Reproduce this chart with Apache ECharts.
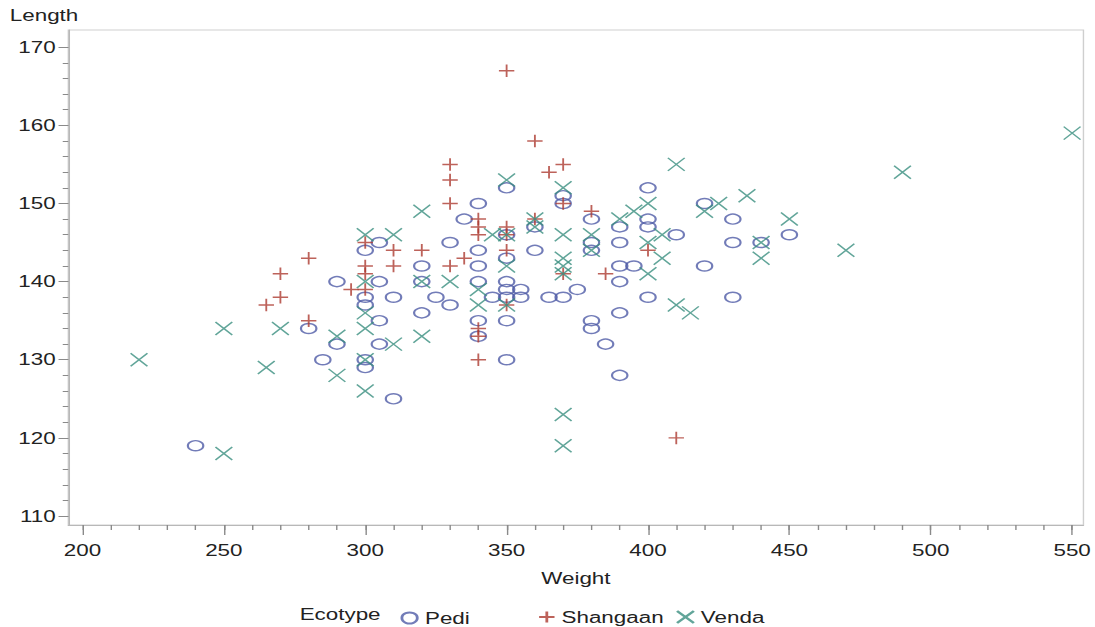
<!DOCTYPE html>
<html lang="en">
    <head>
        <meta charset="utf-8">
        <title>Weight vs Length by Ecotype</title>
        <script src="https://cdn.jsdelivr.net/npm/echarts@6/dist/echarts.min.js"></script>
        <style>
          body { margin: 0; background: #fff; }
          /* the original picture is stretched sideways, so draw narrow and stretch */
          #main { width: 782px; height: 627px; transform: scaleX(1.4003); transform-origin: 0 0; }
        </style>
    </head>
    <body>
    <div id="main"></div>
    <script type="text/javascript">
        // [weight, length]
        var pedi = [
          [240,119],[280,134],[285,130],[290,140],[290,132],[300,144],[300,138],[300,137],
          [300,130],[300,129],[305,145],[305,140],[305,135],[305,132],[310,138],[310,125],
          [320,142],[320,140],[320,136],[325,138],[330,145],[330,137],[335,148],[340,150],
          [340,144],[340,142],[340,140],[340,135],[340,133],[345,138],[350,152],[350,146],
          [350,143],[350,140],[350,139],[350,138],[350,135],[350,130],[355,139],[355,138],
          [360,147],[360,144],[365,138],[370,151],[370,150],[370,138],[375,139],[380,148],
          [380,145],[380,144],[380,135],[380,134],[385,132],[390,147],[390,145],[390,142],
          [390,140],[390,136],[390,128],[395,142],[400,152],[400,148],[400,147],[400,138],
          [410,146],[420,150],[420,142],[430,148],[430,145],[430,138],[440,145],[450,146]
        ];
        var shangaan = [
          [265,137],[270,141],[270,138],[280,143],[280,135],[295,139],[300,145],[300,142],
          [300,141],[300,139],[310,144],[310,142],[320,144],[330,155],[330,153],[330,150],
          [330,142],[335,143],[340,148],[340,147],[340,146],[340,134],[340,133],[340,130],
          [350,167],[350,147],[350,146],[350,144],[350,137],[360,158],[360,148],[365,154],
          [370,155],[370,150],[370,141],[380,149],[385,141],[400,144],[410,120]
        ];
        var venda = [
          [220,130],[250,134],[250,118],[265,129],[270,134],[290,133],[290,128],[300,146],
          [300,140],[300,136],[300,134],[300,130],[300,126],[310,146],[310,132],[320,149],
          [320,140],[320,133],[330,140],[340,139],[340,137],[345,146],[350,153],[350,146],
          [350,142],[350,137],[360,148],[360,147],[370,152],[370,146],[370,143],[370,142],
          [370,141],[370,123],[370,119],[380,146],[380,144],[390,148],[395,149],[400,150],
          [400,145],[400,141],[405,146],[405,143],[410,155],[410,137],[415,136],[420,149],
          [425,150],[435,151],[440,145],[440,143],[450,148],[470,144],[490,154],[550,159]
        ];
        var xTicks = [200, 250, 300, 350, 400, 450, 500, 550];
        var yTicks = [110, 120, 130, 140, 150, 160, 170];

        // minor ticks: every 10 on weight, every 2 on length
        var xMinor = [];
        for (var i = 200; i <= 550; i += 10) xMinor.push(i);
        var yMinor = [];
        for (var j = 110; j <= 170; j += 2) yMinor.push(j);

        var font = 'Liberation Sans, Arial, sans-serif';
        var cPedi = '#4f5ba6';
        var cShan = '#ad3b31';
        var cVenda = '#3a8f80';
        var plusPath = 'path://M0,50 L100,50 M50,0 L50,100';
        var crossPath = 'path://M0,0 L100,100 M100,0 L0,100';

        var chart = echarts.init(document.getElementById('main'), null, {renderer: 'svg'});
        chart.setOption({
          animation: false,
          grid: {
            left: 48.8, right: 5.8, top: 30, bottom: 102,
            show: true, borderColor: '#cfcfcf', borderWidth: 1
          },
          graphic: [
            { type: 'text', left: 7, top: 7, style: { text: 'Length', font: '16px ' + font, fill: '#222' } },
            { type: 'text', left: 214, top: 606, style: { text: 'Ecotype', font: '16px ' + font, fill: '#222' } }
          ],
          xAxis: [{
            type: 'value', min: 195, max: 554, position: 'bottom',
            name: 'Weight', nameLocation: 'middle', nameGap: 45,
            nameTextStyle: { fontFamily: font, fontSize: 16, color: '#222' },
            axisLine: { show: true, lineStyle: { color: '#b8b8b8' } },
            axisTick: { show: true, length: 10, customValues: xTicks, lineStyle: { color: '#8a8a8a' } },
            axisLabel: { customValues: xTicks, margin: 17, fontFamily: font, fontSize: 16, color: '#222' },
            splitLine: { show: false }
          }, {
            type: 'value', min: 195, max: 554, position: 'bottom',
            axisLine: { show: false },
            axisTick: { show: true, length: 5, customValues: xMinor, lineStyle: { color: '#8a8a8a' } },
            axisLabel: { show: false },
            splitLine: { show: false }
          }],
          yAxis: [{
            type: 'value', min: 108.85, max: 172.2, position: 'left',
            axisLine: { show: true, lineStyle: { color: '#b8b8b8' } },
            axisTick: { show: true, length: 7, customValues: yTicks, lineStyle: { color: '#8a8a8a' } },
            axisLabel: { customValues: yTicks, margin: 9, fontFamily: font, fontSize: 16, color: '#222' },
            splitLine: { show: false }
          }, {
            type: 'value', min: 108.85, max: 172.2, position: 'left',
            axisLine: { show: false },
            axisTick: { show: true, length: 4, customValues: yMinor, lineStyle: { color: '#8a8a8a' } },
            axisLabel: { show: false },
            splitLine: { show: false }
          }],
          legend: [{
            data: ['Pedi'], left: 281, top: 605, itemWidth: 12, itemHeight: 11,
            textStyle: { fontFamily: font, fontSize: 16, color: '#222' }
          }, {
            data: ['Shangaan'], left: 379, top: 604, itemWidth: 11, itemHeight: 13,
            textStyle: { fontFamily: font, fontSize: 16, color: '#222' }
          }, {
            data: ['Venda'], left: 477.5, top: 604, itemWidth: 12, itemHeight: 13,
            textStyle: { fontFamily: font, fontSize: 16, color: '#222' }
          }],
          series: [{
            name: 'Pedi', type: 'scatter', data: pedi,
            symbol: 'circle', symbolSize: [11, 10],
            itemStyle: { color: 'transparent', borderColor: cPedi, borderWidth: 1.5 },
            emphasis: { disabled: true }
          }, {
            name: 'Shangaan', type: 'scatter', data: shangaan,
            symbol: plusPath, symbolSize: [11, 12.5],
            itemStyle: { color: 'transparent', borderColor: cShan, borderWidth: 1.4 },
            emphasis: { disabled: true }
          }, {
            name: 'Venda', type: 'scatter', data: venda,
            symbol: crossPath, symbolSize: [12, 13],
            itemStyle: { color: 'transparent', borderColor: cVenda, borderWidth: 1.3 },
            emphasis: { disabled: true }
          }]
        });
    </script>
    </body>
</html>
